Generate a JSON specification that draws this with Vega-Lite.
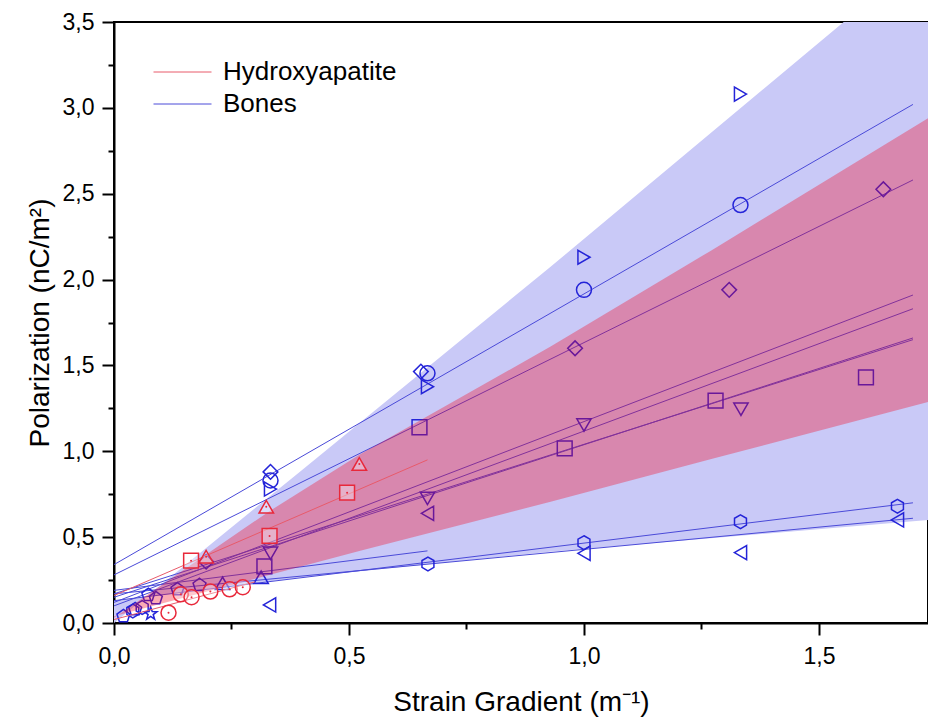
{
  "$schema": "https://vega.github.io/schema/vega-lite/v6.json",
  "width": 814,
  "height": 601,
  "autosize": "none",
  "padding": {"left": 114, "top": 22, "right": 0, "bottom": 101},
  "background": "white",
  "config": {
    "font": "Liberation Sans",
    "view": {"stroke": "black", "strokeWidth": 2},
    "axis": {
      "domainColor": "black", "domainWidth": 2, "tickColor": "black", "tickWidth": 2,
      "grid": false, "labelColor": "black", "titleColor": "black",
      "labelFont": "Liberation Sans", "titleFont": "Liberation Sans",
      "labelFontSize": 23, "titleFontSize": 28, "titleFontWeight": "normal",
      "labelFlush": false, "labelOverlap": false
    },
    "legend": {
      "orient": "none", "legendX": 39, "legendY": 34,
      "symbolType": "stroke", "symbolSize": 3364, "symbolStrokeWidth": 1,
      "labelFont": "Liberation Sans", "labelFontSize": 26, "labelColor": "black",
      "labelOffset": 11, "rowPadding": 0, "clipHeight": 32, "labelLimit": 0, "title": null
    }
  },
  "resolve": {"axis": {"x": "independent", "y": "independent"}},
  "datasets": {
    "bands": [
      {"band": "Bones", "x": 0, "lo": 0.13, "hi": 0},
      {"band": "Bones", "x": 0.395, "lo": 0.265, "hi": 0.88},
      {"band": "Bones", "x": 0.927, "lo": 0.415, "hi": 2.07},
      {"band": "Bones", "x": 1.732, "lo": 0.60, "hi": 3.91},
      {"band": "Hydroxyapatite", "x": 0, "lo": 0.04, "hi": 0.03},
      {"band": "Hydroxyapatite", "x": 0.33, "lo": 0.28, "hi": 0.65},
      {"band": "Hydroxyapatite", "x": 0.522, "lo": 0.42, "hi": 0.98},
      {"band": "Hydroxyapatite", "x": 0.929, "lo": 0.706, "hi": 1.61},
      {"band": "Hydroxyapatite", "x": 1.271, "lo": 0.955, "hi": 2.17},
      {"band": "Hydroxyapatite", "x": 1.732, "lo": 1.287, "hi": 2.94}
    ],
    "fits": [
      {"g": "Bones", "id": "b1", "x": 0, "y": 0.34}, {"g": "Bones", "id": "b1", "x": 1.70, "y": 3.02},
      {"g": "Bones", "id": "b2", "x": 0, "y": 0.28}, {"g": "Bones", "id": "b2", "x": 1.70, "y": 2.58},
      {"g": "Bones", "id": "b3", "x": 0, "y": 0.12}, {"g": "Bones", "id": "b3", "x": 1.70, "y": 1.91},
      {"g": "Bones", "id": "b4", "x": 0, "y": 0.10}, {"g": "Bones", "id": "b4", "x": 1.70, "y": 1.83},
      {"g": "Bones", "id": "b5", "x": 0, "y": 0.15}, {"g": "Bones", "id": "b5", "x": 1.70, "y": 1.66},
      {"g": "Bones", "id": "b6", "x": 0, "y": 0.17}, {"g": "Bones", "id": "b6", "x": 1.70, "y": 1.65},
      {"g": "Bones", "id": "b7", "x": 0, "y": 0.13}, {"g": "Bones", "id": "b7", "x": 1.70, "y": 0.70},
      {"g": "Bones", "id": "b8", "x": 0, "y": 0.17}, {"g": "Bones", "id": "b8", "x": 1.70, "y": 0.61},
      {"g": "Bones", "id": "b9", "x": 0, "y": 0.19}, {"g": "Bones", "id": "b9", "x": 0.667, "y": 0.42},
      {"g": "Hydroxyapatite", "id": "h1", "x": 0, "y": 0.16}, {"g": "Hydroxyapatite", "id": "h1", "x": 0.667, "y": 0.95},
      {"g": "Hydroxyapatite", "id": "h2", "x": 0, "y": 0.02}, {"g": "Hydroxyapatite", "id": "h2", "x": 0.30, "y": 0.24}
    ],
    "pts": [
      {"g": "Bones", "s": "triangle-right", "x": 0.333, "y": 0.78},
      {"g": "Bones", "s": "triangle-right", "x": 0.667, "y": 1.376},
      {"g": "Bones", "s": "triangle-right", "x": 1.0, "y": 2.13},
      {"g": "Bones", "s": "triangle-right", "x": 1.333, "y": 3.08},
      {"g": "Bones", "s": "circle", "x": 0.333, "y": 0.83},
      {"g": "Bones", "s": "circle", "x": 0.667, "y": 1.454},
      {"g": "Bones", "s": "circle", "x": 1.0, "y": 1.94},
      {"g": "Bones", "s": "circle", "x": 1.333, "y": 2.434},
      {"g": "Bones", "s": "diamond", "x": 0.333, "y": 0.88},
      {"g": "Bones", "s": "diamond", "x": 0.653, "y": 1.464},
      {"g": "Bones", "s": "diamond", "x": 0.981, "y": 1.60},
      {"g": "Bones", "s": "diamond", "x": 1.309, "y": 1.94},
      {"g": "Bones", "s": "diamond", "x": 1.637, "y": 2.526},
      {"g": "Bones", "s": "diamond", "x": 0.196, "y": 0.357},
      {"g": "Bones", "s": "square", "x": 0.32, "y": 0.33},
      {"g": "Bones", "s": "square", "x": 0.65, "y": 1.14},
      {"g": "Bones", "s": "square", "x": 0.959, "y": 1.017},
      {"g": "Bones", "s": "square", "x": 1.28, "y": 1.295},
      {"g": "Bones", "s": "square", "x": 1.60, "y": 1.43},
      {"g": "Bones", "s": "triangle-down", "x": 0.333, "y": 0.406},
      {"g": "Bones", "s": "triangle-down", "x": 0.667, "y": 0.726},
      {"g": "Bones", "s": "triangle-down", "x": 1.0, "y": 1.153},
      {"g": "Bones", "s": "triangle-down", "x": 1.334, "y": 1.245},
      {"g": "Bones", "s": "triangle-left", "x": 0.331, "y": 0.105},
      {"g": "Bones", "s": "triangle-left", "x": 0.667, "y": 0.639},
      {"g": "Bones", "s": "triangle-left", "x": 1.0, "y": 0.406},
      {"g": "Bones", "s": "triangle-left", "x": 1.333, "y": 0.41},
      {"g": "Bones", "s": "triangle-left", "x": 1.667, "y": 0.60},
      {"g": "Bones", "s": "hexagon", "x": 0.668, "y": 0.344},
      {"g": "Bones", "s": "hexagon", "x": 1.0, "y": 0.468},
      {"g": "Bones", "s": "hexagon", "x": 1.333, "y": 0.59},
      {"g": "Bones", "s": "hexagon", "x": 1.667, "y": 0.68},
      {"g": "Bones", "s": "hexagon", "x": 0.04, "y": 0.07},
      {"g": "Bones", "s": "hexagon", "x": 0.06, "y": 0.09},
      {"g": "Bones", "s": "triangle-up", "x": 0.231, "y": 0.231},
      {"g": "Bones", "s": "triangle-up", "x": 0.313, "y": 0.266},
      {"g": "Bones", "s": "pentagon", "x": 0.073, "y": 0.163},
      {"g": "Bones", "s": "pentagon", "x": 0.089, "y": 0.144},
      {"g": "Bones", "s": "pentagon", "x": 0.135, "y": 0.196},
      {"g": "Bones", "s": "pentagon", "x": 0.182, "y": 0.221},
      {"g": "Bones", "s": "pentagon", "x": 0.02, "y": 0.04},
      {"g": "Bones", "s": "pentagon", "x": 0.045, "y": 0.08},
      {"g": "Bones", "s": "star", "x": 0.078, "y": 0.054},
      {"g": "Hydroxyapatite", "s": "square", "x": 0.164, "y": 0.363},
      {"g": "Hydroxyapatite", "s": "square", "x": 0.331, "y": 0.507},
      {"g": "Hydroxyapatite", "s": "square", "x": 0.496, "y": 0.759},
      {"g": "Hydroxyapatite", "s": "triangle-up", "x": 0.196, "y": 0.386},
      {"g": "Hydroxyapatite", "s": "triangle-up", "x": 0.324, "y": 0.677},
      {"g": "Hydroxyapatite", "s": "triangle-up", "x": 0.522, "y": 0.926},
      {"g": "Hydroxyapatite", "s": "circle", "x": 0.116, "y": 0.06},
      {"g": "Hydroxyapatite", "s": "circle", "x": 0.142, "y": 0.167},
      {"g": "Hydroxyapatite", "s": "circle", "x": 0.165, "y": 0.15},
      {"g": "Hydroxyapatite", "s": "circle", "x": 0.205, "y": 0.183},
      {"g": "Hydroxyapatite", "s": "circle", "x": 0.246, "y": 0.196},
      {"g": "Hydroxyapatite", "s": "circle", "x": 0.274, "y": 0.208}
    ]
  },
  "layer": [
    {
      "data": {"name": "bands"},
      "transform": [{"filter": "datum.band === 'Bones'"}],
      "mark": {"type": "area", "fill": "#c9c9f7", "clip": true},
      "encoding": {
        "x": {
          "field": "x", "type": "quantitative",
          "scale": {"domain": [0, 1.732], "nice": false, "zero": false},
          "axis": {
            "orient": "bottom",
            "title": "Strain Gradient (m⁻¹)",
            "values": [0, 0.5, 1, 1.5],
            "labelExpr": "replace(format(datum.value, '.1f'), '.', ',')",
            "tickSize": 12, "labelPadding": 10, "titlePadding": 20
          }
        },
        "y": {
          "field": "hi", "type": "quantitative",
          "scale": {"domain": [0, 3.5], "nice": false, "zero": false},
          "axis": {
            "orient": "left",
            "title": "Polarization (nC/m²)",
            "values": [0, 0.5, 1, 1.5, 2, 2.5, 3, 3.5],
            "labelExpr": "replace(format(datum.value, '.1f'), '.', ',')",
            "tickSize": 12, "labelPadding": 8, "titlePadding": 8
          }
        },
        "y2": {"field": "lo"}
      }
    },
    {
      "data": {"name": "fits"},
      "transform": [{"filter": "datum.g === 'Bones'"}],
      "mark": {"type": "line", "strokeWidth": 1, "clip": true},
      "encoding": {
        "x": {
          "field": "x", "type": "quantitative",
          "axis": {"orient": "bottom", "values": [0.25, 0.75, 1.25], "tickSize": 6, "labels": false, "domain": false, "title": null}
        },
        "y": {
          "field": "y", "type": "quantitative",
          "axis": {"orient": "left", "values": [0.25, 0.75, 1.25, 1.75, 2.25, 2.75, 3.25], "tickSize": 6, "labels": false, "domain": false, "title": null}
        },
        "detail": {"field": "id"},
        "color": {
          "field": "g", "type": "nominal",
          "scale": {"domain": ["Hydroxyapatite", "Bones"], "range": ["#e85a6a", "#4a4ad8"]},
          "legend": {}
        }
      }
    },
    {
      "data": {"name": "pts"},
      "transform": [{"filter": "datum.g === 'Bones'"}],
      "mark": {"type": "point", "filled": false, "stroke": "#2424d8", "strokeWidth": 1.5, "opacity": 1},
      "encoding": {
        "x": {"field": "x", "type": "quantitative", "axis": null},
        "y": {"field": "y", "type": "quantitative", "axis": null},
        "shape": {
          "field": "s", "type": "nominal", "legend": null,
          "scale": {
            "domain": ["circle", "square", "diamond", "triangle-up", "triangle-down", "triangle-left", "triangle-right", "hexagon", "pentagon", "star"],
            "range": ["circle", "square", "diamond", "triangle-up", "triangle-down", "triangle-left", "triangle-right",
              "M0,-1L0.866,-0.5L0.866,0.5L0,1L-0.866,0.5L-0.866,-0.5Z",
              "M0,-1L0.951,-0.309L0.588,0.809L-0.588,0.809L-0.951,-0.309Z",
              "M0,-1L0.235,-0.324L0.951,-0.309L0.38,0.124L0.588,0.809L0,0.4L-0.588,0.809L-0.38,0.124L-0.951,-0.309L-0.235,-0.324Z"]
          }
        },
        "size": {
          "field": "s", "type": "nominal", "legend": null,
          "scale": {
            "domain": ["circle", "square", "diamond", "triangle-up", "triangle-down", "triangle-left", "triangle-right", "hexagon", "pentagon", "star"],
            "range": [225, 180, 289, 324, 324, 324, 324, 289, 256, 256]
          }
        }
      }
    },
    {
      "data": {"name": "bands"},
      "transform": [{"filter": "datum.band === 'Hydroxyapatite'"}],
      "mark": {"type": "area", "fill": "#f5001a", "opacity": 0.33, "clip": true},
      "encoding": {
        "x": {"field": "x", "type": "quantitative", "axis": null},
        "y": {"field": "hi", "type": "quantitative", "axis": null},
        "y2": {"field": "lo"}
      }
    },
    {
      "data": {"name": "fits"},
      "transform": [{"filter": "datum.g === 'Hydroxyapatite'"}],
      "mark": {"type": "line", "strokeWidth": 1, "clip": true},
      "encoding": {
        "x": {"field": "x", "type": "quantitative", "axis": null},
        "y": {"field": "y", "type": "quantitative", "axis": null},
        "detail": {"field": "id"},
        "color": {"field": "g", "type": "nominal"}
      }
    },
    {
      "data": {"name": "pts"},
      "transform": [{"filter": "datum.g === 'Hydroxyapatite'"}],
      "mark": {"type": "point", "filled": true, "fill": "white", "fillOpacity": 0.35, "stroke": "#e8283a", "strokeWidth": 1.5, "strokeOpacity": 1},
      "encoding": {
        "x": {"field": "x", "type": "quantitative", "axis": null},
        "y": {"field": "y", "type": "quantitative", "axis": null},
        "shape": {"field": "s", "type": "nominal", "legend": null},
        "size": {"field": "s", "type": "nominal", "legend": null}
      }
    },
    {
      "data": {"name": "pts"},
      "transform": [{"filter": "datum.g === 'Hydroxyapatite'"}],
      "mark": {"type": "circle", "size": 4, "color": "#e8283a", "opacity": 1},
      "encoding": {
        "x": {"field": "x", "type": "quantitative", "axis": null},
        "y": {"field": "y", "type": "quantitative", "axis": null}
      }
    }
  ]
}
